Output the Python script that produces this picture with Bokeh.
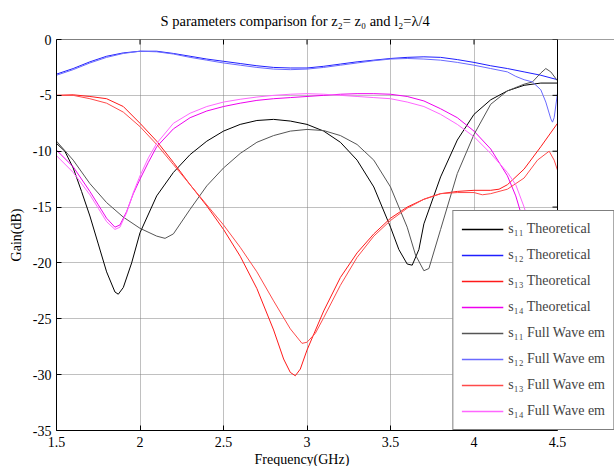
import numpy as np
from bokeh.plotting import figure
from bokeh.models import (FixedTicker, Legend, LegendItem, Range1d, Title,
                          BoxAnnotation, Span)
from bokeh.embed import file_html
from bokeh.resources import INLINE

# ---------------- data ----------------
x_ticks = [1.5, 2, 2.5, 3, 3.5, 4, 4.5]
x_tick_labels = ["1.5", "2", "2.5", "3", "3.5", "4", "4.5"]
y_ticks = [-35, -30, -25, -20, -15, -10, -5, 0]
y_tick_labels = ["-35", "-30", "-25", "-20", "-15", "-10", "-5", "0"]

s11_t_f = [1.5, 1.55, 1.6, 1.65, 1.7, 1.75, 1.8, 1.85, 1.87, 1.9, 1.95, 2.0, 2.1, 2.2, 2.3, 2.4,
           2.5, 2.6, 2.7, 2.8, 2.9, 3.0, 3.1, 3.2, 3.3, 3.4, 3.5, 3.55, 3.6, 3.63, 3.67, 3.7,
           3.8, 3.9, 4.0, 4.1, 4.2, 4.3, 4.4, 4.5]
s11_t_db = [-9.3, -10.0, -11.5, -13.6, -15.8, -18.3, -20.8, -22.6, -22.8, -22.2, -20.0, -17.3,
            -14.0, -11.9, -10.3, -9.1, -8.2, -7.6, -7.25, -7.15, -7.3, -7.6, -8.2, -9.2, -10.8,
            -13.2, -16.8, -18.8, -20.1, -20.2, -18.8, -16.5, -12.3, -9.0, -6.7, -5.4, -4.6, -4.1,
            -3.9, -3.9]

s12_t_f = [1.5, 1.6, 1.7, 1.8, 1.9, 2.0, 2.1, 2.2, 2.3, 2.4, 2.5, 2.6, 2.7, 2.8, 2.9, 3.0, 3.1,
           3.2, 3.3, 3.4, 3.5, 3.6, 3.7, 3.8, 3.9, 4.0, 4.1, 4.2, 4.3, 4.4, 4.5]
s12_t_db = [-3.1, -2.6, -2.0, -1.5, -1.2, -1.05, -1.05, -1.25, -1.5, -1.75, -1.95, -2.15, -2.35,
            -2.5, -2.55, -2.55, -2.4, -2.2, -2.0, -1.85, -1.7, -1.6, -1.55, -1.6, -1.8, -2.05,
            -2.35, -2.6, -2.9, -3.2, -3.6]

s13_t_f = [1.5, 1.6, 1.7, 1.8, 1.9, 2.0, 2.1, 2.2, 2.3, 2.4, 2.5, 2.6, 2.7, 2.8, 2.86, 2.9, 2.93,
           2.96, 3.0, 3.1, 3.2, 3.3, 3.4, 3.5, 3.6, 3.7, 3.8, 3.9, 4.0, 4.1, 4.15, 4.2, 4.3, 4.4, 4.5]
s13_t_db = [-5.0, -4.95, -5.1, -5.3, -6.0, -7.5, -9.1, -11.0, -13.0, -14.9, -17.0, -19.4, -22.3,
            -26.0, -28.6, -29.8, -30.1, -29.5, -27.8, -24.3, -21.3, -19.1, -17.4, -16.0, -15.0,
            -14.3, -13.8, -13.6, -13.5, -13.5, -13.4, -13.0, -11.6, -9.6, -7.5]

s14_t_f = [1.5, 1.6, 1.7, 1.75, 1.8, 1.85, 1.88, 1.92, 1.96, 2.0, 2.05, 2.1, 2.2, 2.3, 2.4, 2.5,
           2.6, 2.7, 2.8, 2.9, 3.0, 3.1, 3.2, 3.3, 3.4, 3.5, 3.6, 3.7, 3.8, 3.9, 4.0, 4.1, 4.2,
           4.25, 4.3, 4.35, 4.4, 4.45]
s14_t_db = [-9.9, -11.4, -13.6, -14.8, -16.0, -16.8, -16.6, -15.4, -13.8, -12.5, -11.0, -9.6,
            -8.0, -7.0, -6.4, -6.0, -5.7, -5.45, -5.3, -5.2, -5.1, -5.0, -4.9, -4.85, -4.85, -4.9,
            -5.1, -5.5, -6.2, -7.0, -8.2, -9.8, -12.2, -14.0, -16.5, -19.5, -23.0, -27.0]

s11_fw_f = [1.5, 1.6, 1.7, 1.8, 1.9, 2.0, 2.1, 2.15, 2.2, 2.3, 2.4, 2.5, 2.6, 2.7, 2.8, 2.9, 3.0,
            3.1, 3.2, 3.3, 3.4, 3.5, 3.6, 3.65, 3.7, 3.73, 3.8, 3.9, 4.0, 4.1, 4.2, 4.3, 4.35,
            4.4, 4.43, 4.46, 4.5]
s11_fw_db = [-9.1, -10.8, -12.9, -14.6, -15.9, -16.9, -17.6, -17.8, -17.4, -15.2, -13.1, -11.5,
             -10.2, -9.2, -8.6, -8.2, -8.05, -8.15, -8.6, -9.4, -10.8, -13.2, -16.8, -19.3, -20.7,
             -20.5, -17.0, -12.0, -8.5, -5.8, -4.6, -4.0, -3.8, -3.0, -2.6, -2.9, -3.7]

s12_fw_f = [1.5, 1.6, 1.7, 1.8, 1.9, 2.0, 2.1, 2.2, 2.3, 2.4, 2.5, 2.6, 2.7, 2.8, 2.9, 3.0, 3.1,
            3.2, 3.3, 3.4, 3.5, 3.6, 3.7, 3.8, 3.9, 4.0, 4.1, 4.2, 4.25, 4.3, 4.35, 4.4, 4.43,
            4.46, 4.47, 4.48, 4.5]
s12_fw_db = [-3.2, -2.7, -2.1, -1.6, -1.25, -1.05, -1.1, -1.3, -1.6, -1.85, -2.1, -2.3, -2.5,
             -2.65, -2.7, -2.65, -2.5, -2.3, -2.1, -1.9, -1.75, -1.7, -1.75, -1.85, -2.05, -2.3,
             -2.6, -2.9, -3.3, -3.6, -3.8, -4.5, -5.6, -7.1, -7.4, -7.0, -4.8]

s13_fw_f = [1.5, 1.6, 1.7, 1.8, 1.9, 2.0, 2.1, 2.2, 2.3, 2.4, 2.5, 2.6, 2.7, 2.8, 2.9, 2.97, 3.0,
            3.05, 3.1, 3.2, 3.3, 3.4, 3.5, 3.6, 3.7, 3.8, 3.9, 4.0, 4.05, 4.1, 4.2, 4.3, 4.38,
            4.45, 4.48, 4.5]
s13_fw_db = [-5.0, -5.0, -5.3, -5.7, -6.5, -7.8, -9.4, -11.2, -13.0, -14.8, -16.6, -18.6, -20.8,
             -23.4, -25.9, -27.2, -27.1, -26.3, -24.9, -22.0, -19.5, -17.6, -16.2, -15.1, -14.3,
             -13.8, -13.7, -13.7, -13.9, -13.8, -13.4, -12.4, -10.8, -10.0, -10.8, -11.7]

s14_fw_f = [1.5, 1.6, 1.7, 1.75, 1.8, 1.85, 1.88, 1.92, 1.96, 2.0, 2.05, 2.1, 2.2, 2.3, 2.4, 2.5,
            2.6, 2.7, 2.8, 2.9, 3.0, 3.1, 3.2, 3.3, 3.4, 3.5, 3.6, 3.7, 3.8, 3.9, 4.0, 4.1, 4.2,
            4.25, 4.3, 4.35, 4.4, 4.45]
s14_fw_db = [-10.4, -11.9, -13.9, -15.1, -16.3, -17.0, -16.8, -15.5, -13.7, -12.2, -10.6, -9.3,
             -7.5, -6.6, -6.0, -5.6, -5.35, -5.15, -5.0, -4.9, -4.85, -4.9, -5.0, -5.1, -5.2, -5.3,
             -5.6, -6.0, -6.7, -7.6, -8.7, -10.2, -11.9, -13.0, -15.0, -17.5, -20.5, -24.0]

series = [
    ("s\u2081\u2081 Theoretical", s11_t_f, s11_t_db, "#000000"),
    ("s\u2081\u2082 Theoretical", s12_t_f, s12_t_db, "#1f1fff"),
    ("s\u2081\u2083 Theoretical", s13_t_f, s13_t_db, "#ff1a1a"),
    ("s\u2081\u2084 Theoretical", s14_t_f, s14_t_db, "#ee00ee"),
    ("s\u2081\u2081 Full Wave em", s11_fw_f, s11_fw_db, "#555555"),
    ("s\u2081\u2082 Full Wave em", s12_fw_f, s12_fw_db, "#6a6aff"),
    ("s\u2081\u2083 Full Wave em", s13_fw_f, s13_fw_db, "#ff4a4a"),
    ("s\u2081\u2084 Full Wave em", s14_fw_f, s14_fw_db, "#ff66ff"),
]

FONT = "Liberation Serif"

# layout: axes box spans pixels 56..557 horizontally; the frame is extended to the
# right page edge so that the legend may overhang the axes box as in the reference
W, H = 614, 466
BOX_L, BOX_R = 56, 557
x0, x1 = x_ticks[0], x_ticks[-1]
x_end = x1 + (x1 - x0) * (W - BOX_R) / (BOX_R - BOX_L)

p = figure(width=W, height=H, output_backend="svg", toolbar_location=None,
           x_range=Range1d(x0, x_end), y_range=Range1d(y_ticks[0], y_ticks[-1]),
           min_border_left=BOX_L, min_border_right=0, min_border_top=39, min_border_bottom=34)
p.outline_line_color = None
p.background_fill_color = "white"
p.border_fill_color = "white"

title = Title(text="S parameters comparison for z\u2082= z\u2080  and l\u2082=\u03bb/4",
              align="left", offset=104, text_font=FONT, text_font_size="14.5px",
              text_font_style="normal", text_color="black", standoff=17,
              vertical_align="top")
p.add_layout(title, "above")

for label, xs, ys, color in series:
    p.line(xs, ys, line_color=color, line_width=1)

for ax, ticks, labels in ((p.xaxis[0], x_ticks, x_tick_labels), (p.yaxis[0], y_ticks, y_tick_labels)):
    ax.ticker = FixedTicker(ticks=ticks)
    ax.major_label_overrides = {t: l for t, l in zip(ticks, labels)}
    ax.major_label_text_font = FONT
    ax.major_label_text_font_size = "14px"
    ax.major_label_text_color = "black"
    ax.axis_label_text_font = FONT
    ax.axis_label_text_font_size = "14px"
    ax.axis_label_text_font_style = "normal"
    ax.axis_label_text_color = "black"
    ax.major_tick_in = 5
    ax.major_tick_out = 0
    ax.minor_tick_line_color = None
    ax.axis_line_color = "black"
    ax.major_tick_line_color = "black"

p.xaxis.bounds = (x0, x1)
p.xaxis.major_label_standoff = 6
p.yaxis.axis_label = "Gain(dB)"
p.yaxis.major_label_standoff = 5
p.yaxis.axis_label_standoff = 6

xlabel = Title(text="Frequency(GHz)", align="left", offset=198, text_font=FONT,
               text_font_size="14px", text_font_style="normal", text_color="black", standoff=0)
p.add_layout(xlabel, "below")

# inward ticks on top and right sides of the box
p.ray(x=x_ticks, y=[y_ticks[-1]] * len(x_ticks), length=5, length_units="screen",
      angle=-np.pi / 2, line_color="black", line_width=1)
p.ray(x=[x1] * len(y_ticks), y=y_ticks, length=5, length_units="screen",
      angle=np.pi, line_color="black", line_width=1)

p.xgrid.grid_line_color = "#808080"
p.ygrid.grid_line_color = "#808080"
p.xgrid.grid_line_dash = "1 1"
p.ygrid.grid_line_dash = "1 1"

# top side of the box, blank area right of the box, right side of the box
p.add_layout(Span(location=y_ticks[-1], dimension="width", line_color="black", line_width=1))
p.add_layout(BoxAnnotation(left=x1, fill_color="white", fill_alpha=1, line_color=None))
p.add_layout(Span(location=x1, dimension="height", line_color="black", line_width=1))

# legend samples: one-point line renderers (draw nothing in the plot) with the series colours
legend_items = []
for label, xs, ys, color in series:
    r = p.line(x=xs[:1], y=ys[:1], line_color=color, line_width=1.3)
    legend_items.append(LegendItem(label=label, renderers=[r]))

legend = Legend(items=legend_items, location="bottom_right", orientation="vertical",
                label_text_font=FONT, label_text_font_size="14px",
                glyph_width=42, glyph_height=20, label_height=20, label_standoff=5,
                spacing=6, padding=8, margin=0,
                border_line_color="black", border_line_width=1,
                background_fill_color="white", background_fill_alpha=1)
p.add_layout(legend, "center")

open("out.html", "w").write(file_html(p, INLINE))
